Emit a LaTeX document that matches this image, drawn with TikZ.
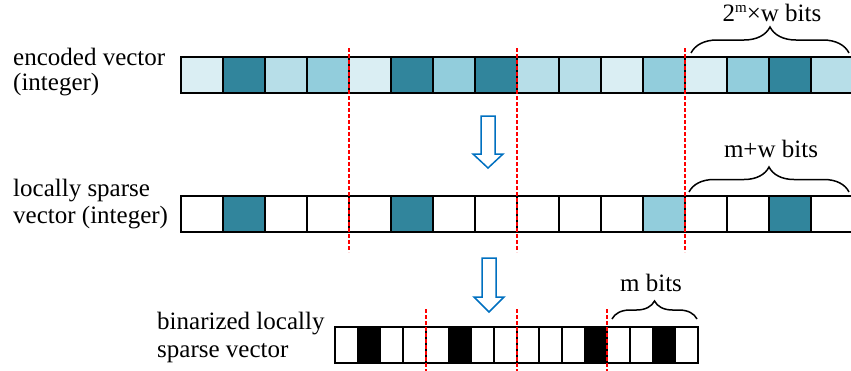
\documentclass[tikz,border=0pt]{standalone}
\usepackage{fontspec}
\setmainfont{Liberation Serif}
\usetikzlibrary{decorations.pathreplacing}
\definecolor{cD}{HTML}{31859C}
\definecolor{cM}{HTML}{92CDDC}
\definecolor{cL}{HTML}{B7DEE8}
\definecolor{cV}{HTML}{DAEEF3}
\definecolor{arrowblue}{HTML}{0070C0}
\begin{document}
\begin{tikzpicture}[x=1pt,y=-1pt,
  cell/.style={draw=black, line width=1.8pt, minimum width=42pt, minimum height=36pt,
    inner sep=0pt, outer sep=0pt, anchor=north west},
  bcell/.style={cell, minimum width=22.7pt},
  lbl/.style={font=\fontsize{25}{26}\selectfont, anchor=base west, inner sep=0pt},
  blbl/.style={font=\fontsize{25}{26}\selectfont, anchor=base, inner sep=0pt},
  sepline/.style={red, line width=2pt, dash pattern=on 4pt off 2pt},
  brc/.style={decorate, decoration={brace, amplitude=#1}, line width=1.5pt},
  downarrow/.style={draw=arrowblue, fill=white, line width=1.5pt, line join=miter}]
\useasboundingbox (0,0) rectangle (851,370);

% top row
\foreach \c [count=\i] in {cV,cD,cL,cM,cV,cD,cM,cD,cL,cL,cV,cM,cV,cM,cD,cL}
  \node[cell, fill=\c] (t\i) at ({181+42*(\i-1)},57) {};
% middle row
\foreach \c [count=\i] in {white,cD,white,white,white,cD,white,white,white,white,white,cM,white,white,cD,white}
  \node[cell, fill=\c] (m\i) at ({181+42*(\i-1)},196) {};
% bottom row
\foreach \c [count=\i] in {white,black,white,white,white,black,white,white,white,white,white,black,white,white,black,white}
  \node[bcell, fill=\c] (b\i) at ({335+22.7*(\i-1)},327) {};

% red separators
\foreach \k in {4,8,12} {
  \draw[sepline] ([yshift=9pt]t\k.north east) -- ([yshift=-20pt]m\k.south east);
  \draw[sepline] ([yshift=18pt]b\k.north east) -- ([yshift=-10pt]b\k.south east);
}

% labels
\node[lbl] (la1) at (13,65) {encoded vector};
\node[lbl] (la2) at (13,90) {(integer)};
\node[lbl] (lb1) at (13,196) {locally sparse};
\node[lbl] (lb2) at (13,223) {vector (integer)};
\node[lbl] (lc1) at (157,329) {binarized locally};
\node[lbl] (lc2) at (157,357) {sparse vector};

% braces
\draw[brc=26] (691,53) -- (849,53);
\node[blbl] (br1) at (772,21) {2\raisebox{0.36em}{\fontsize{15}{15}\selectfont m}×w bits};
\draw[brc=25] (689,192) -- (849,192);
\node[blbl] (br2) at (771,157) {m+w bits};
\draw[brc=18] (612,319) -- (697,319);
\node[blbl] (br3) at (651,291) {m bits};

% hollow arrows
\draw[downarrow] (481,116) -- (495,116) -- (495,154) -- (503,154) -- (488,168)
  -- (473,154) -- (481,154) -- cycle;
\draw[downarrow] (482,258) -- (496,258) -- (496,297) -- (504,297) -- (489,312)
  -- (474,297) -- (482,297) -- cycle;
\end{tikzpicture}
\end{document}
